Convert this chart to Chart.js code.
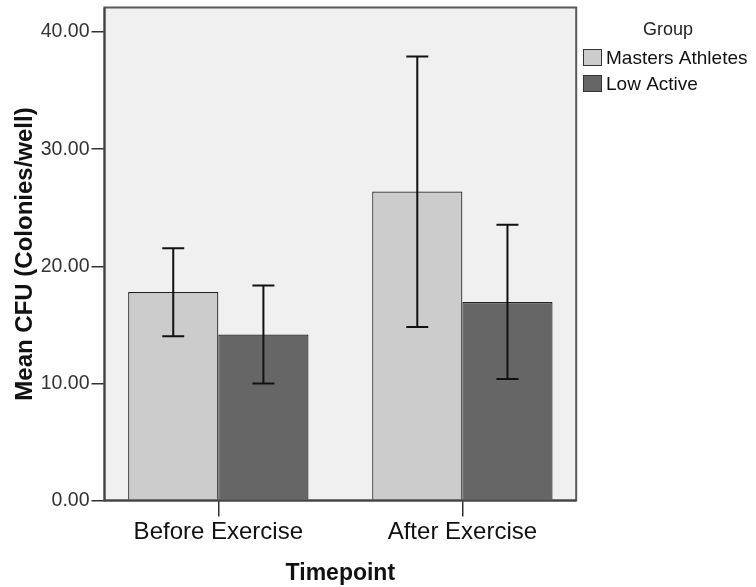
<!DOCTYPE html>
<html>
<head>
<meta charset="utf-8">
<script src="https://cdn.jsdelivr.net/npm/chart.js@4"></script>
<style>
  html, body { margin: 0; padding: 0; background: #ffffff; }
  #wrap { width: 756px; height: 587px; position: relative; }
</style>
</head>
<body>
<div id="wrap"><canvas id="c" width="756" height="587"></canvas></div>
<script>
const categories = ['Before Exercise', 'After Exercise'];
const seriesNames = ['Masters Athletes', 'Low Active'];
const mastersMean = [17.80, 26.39];
const mastersLow = [14.02, 14.82];
const mastersHigh = [21.55, 37.92];
const lowActiveMean = [14.17, 16.95];
const lowActiveLow = [9.99, 10.38];
const lowActiveHigh = [18.35, 23.55];
const yTickValues = [0, 10, 20, 30, 40];

const FONT = "'Liberation Sans', Arial, sans-serif";
const errLows = [mastersLow, lowActiveLow];
const errHighs = [mastersHigh, lowActiveHigh];

const bgPlugin = {
  id: 'plotBg',
  beforeDraw(chart) {
    const { ctx, chartArea: a } = chart;
    ctx.save();
    ctx.fillStyle = '#f0f0f0';
    ctx.fillRect(a.left, a.top, a.right - a.left, a.bottom - a.top);
    ctx.restore();
  },
  afterDatasetsDraw(chart) {
    const { ctx, chartArea: a } = chart;
    const yScale = chart.scales.y;
    ctx.save();
    ctx.strokeStyle = '#111111';
    ctx.lineWidth = 2;
    chart.data.datasets.forEach((ds, di) => {
      const meta = chart.getDatasetMeta(di);
      meta.data.forEach((el, i) => {
        const x = el.x;
        const yH = yScale.getPixelForValue(errHighs[di][i]);
        const yL = yScale.getPixelForValue(errLows[di][i]);
        ctx.beginPath();
        ctx.moveTo(x, yH); ctx.lineTo(x, yL);
        ctx.moveTo(x - 11, yH); ctx.lineTo(x + 11, yH);
        ctx.moveTo(x - 11, yL); ctx.lineTo(x + 11, yL);
        ctx.stroke();
      });
    });
    ctx.strokeStyle = '#5a5a5a';
    ctx.lineWidth = 2;
    ctx.strokeRect(a.left, a.top, a.right - a.left, a.bottom - a.top);
    ctx.strokeStyle = '#444444';
    ctx.beginPath();
    ctx.moveTo(a.left, a.top); ctx.lineTo(a.left, a.bottom); ctx.lineTo(a.right, a.bottom);
    ctx.stroke();
    ctx.restore();
  },
  afterDraw(chart) {
    const { ctx } = chart;
    ctx.save();
    ctx.fillStyle = '#222222';
    ctx.font = '18px ' + FONT;
    ctx.textAlign = 'center';
    ctx.textBaseline = 'alphabetic';
    ctx.fillText('Group', 668, 35);
    chart.data.datasets.forEach((ds, i) => {
      const bx = 583.5, by = 49.5 + i * 26, bw = 18, bh = 16;
      ctx.fillStyle = ds.backgroundColor;
      ctx.fillRect(bx, by, bw, bh);
      ctx.strokeStyle = '#333333';
      ctx.lineWidth = 1;
      ctx.strokeRect(bx, by, bw, bh);
      ctx.fillStyle = '#111111';
      ctx.font = '19px ' + FONT;
      ctx.textAlign = 'left';
      ctx.textBaseline = 'middle';
      ctx.fillText(ds.label, 606, by + bh / 2 + 1);
    });
    ctx.restore();
  }
};

new Chart(document.getElementById('c'), {
  type: 'bar',
  data: {
    datasets: [
      {
        label: seriesNames[0],
        data: mastersMean.map((v, i) => ({ x: i, y: v })),
        backgroundColor: '#cccccc',
        borderColor: '#222222',
        borderWidth: 1.2
      },
      {
        label: seriesNames[1],
        data: lowActiveMean.map((v, i) => ({ x: i, y: v })),
        backgroundColor: '#666666',
        borderColor: '#222222',
        borderWidth: 1.2
      }
    ]
  },
  plugins: [bgPlugin],
  options: {
    responsive: false,
    animation: false,
    devicePixelRatio: 1,
    categoryPercentage: 0.739,
    barPercentage: 1.0,
    layout: { padding: { left: 0, right: 179.8, top: 7.5, bottom: 0 } },
    plugins: { legend: { display: false }, tooltip: { enabled: false } },
    scales: {
      x: {
        type: 'linear',
        offset: false,
        min: -0.4664,
        max: 1.4664,
        afterBuildTicks(scale) { scale.ticks = categories.map((c, i) => ({ value: i })); },
        afterFit(scale) { scale.height = 86.5; scale.paddingLeft = 0; scale.paddingRight = 0; },
        grid: { display: true, offset: false, drawOnChartArea: false, drawTicks: true, tickLength: 16, color: '#333333', lineWidth: 1.5 },
        border: { display: false },
        ticks: {
          callback: (v) => categories[v] !== undefined ? categories[v] : '',
          font: { family: FONT, size: 24 },
          color: '#111111',
          padding: 1,
          maxRotation: 0,
          autoSkip: false
        },
        title: {
          display: true,
          text: 'Timepoint',
          font: { family: FONT, size: 23, weight: 'bold' },
          color: '#111111',
          padding: { top: 7, bottom: 0 }
        }
      },
      y: {
        min: 0,
        max: 42.1,
        afterBuildTicks(scale) { scale.ticks = yTickValues.map(v => ({ value: v })); },
        afterFit(scale) { scale.width = 104.5; scale.paddingTop = 0; scale.paddingBottom = 0; },
        grid: { display: true, drawOnChartArea: false, drawTicks: true, tickLength: 13, color: '#333333', lineWidth: 1.5 },
        border: { display: false },
        ticks: {
          callback: (v) => Number(v).toFixed(2),
          font: { family: FONT, size: 19.5 },
          color: '#333333',
          padding: 2
        },
        title: {
          display: true,
          text: 'Mean CFU (Colonies/well)',
          font: { family: FONT, size: 24, weight: 'bold' },
          color: '#111111',
          padding: { top: 11, bottom: 0 }
        }
      }
    }
  }
});
</script>
</body>
</html>
